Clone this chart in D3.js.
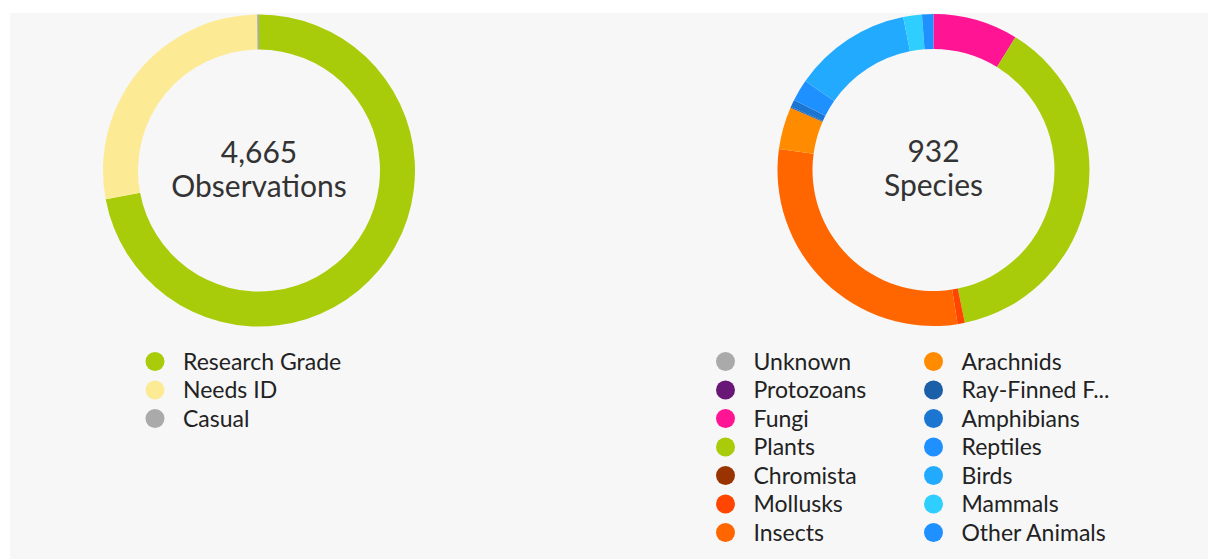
<!DOCTYPE html>
<html>
<head>
<meta charset="utf-8">
<script src="https://cdn.jsdelivr.net/npm/d3@7"></script>
<style>
  html, body { margin: 0; padding: 0; background: #ffffff; }
  svg { display: block; font-family: Lato, "Open Sans", sans-serif; }
</style>
</head>
<body>
<script>
// quality grade donut
var gradeNames = ["Research Grade", "Needs ID", "Casual"];
var gradeCounts = [3361, 1295, 9];
var gradeColors = ["#a8cc0a", "#fdea95", "#aaaaaa"];

// iconic taxa donut
var taxaNames = ["Unknown", "Protozoans", "Fungi", "Plants", "Chromista", "Mollusks", "Insects",
                 "Arachnids", "Ray-Finned F...", "Amphibians", "Reptiles", "Birds", "Mammals", "Other Animals"];
var taxaCounts = [0, 0, 82, 354, 0, 7, 276, 41, 1, 7, 21, 114, 18, 11];
var taxaColors = ["#aaaaaa", "#691776", "#ff1493", "#a8cc0a", "#993300", "#ff4500", "#ff6600",
                  "#ff8c00", "#1a5fa8", "#1c75d0", "#1e90ff", "#22aaff", "#2ecfff", "#1e90ff"];

var width = 1208, height = 559;

var svg = d3.select("body").append("svg")
    .attr("width", width)
    .attr("height", height);

// grey panel
svg.append("rect")
    .attr("x", 10).attr("y", 13)
    .attr("width", width - 10).attr("height", height - 13)
    .attr("fill", "#f7f7f7");

var pie = d3.pie().sort(null).value(function(d) { return d; });
var arc = d3.arc().innerRadius(121).outerRadius(156);

function donut(cx, cy, counts, colors, number, label) {
    var g = svg.append("g").attr("transform", "translate(" + cx + "," + cy + ")");
    g.selectAll("path").data(pie(counts)).enter().append("path")
        .attr("d", arc)
        .attr("fill", function(d, i) { return colors[i]; });
    g.append("text")
        .attr("text-anchor", "middle")
        .attr("y", -8)
        .attr("font-size", 30)
        .attr("fill", "#333")
        .text(number);
    g.append("text")
        .attr("text-anchor", "middle")
        .attr("y", 26)
        .attr("font-size", 30)
        .attr("fill", "#333")
        .text(label);
}

donut(259, 170.5, gradeCounts, gradeColors, d3.format(",")(d3.sum(gradeCounts)), "Observations");
donut(933.5, 170, taxaCounts, taxaColors, d3.sum(taxaCounts), "Species");

// legends
function legend(x0, y0, names, colors, perCol, colGap) {
    var items = svg.append("g").selectAll("g").data(names).enter().append("g")
        .attr("transform", function(d, i) {
            var col = Math.floor(i / perCol), row = i % perCol;
            return "translate(" + (x0 + col * colGap) + "," + (y0 + row * 28.5) + ")";
        });
    items.append("circle").attr("r", 9.5)
        .attr("fill", function(d, i) { return colors[i]; });
    items.append("text")
        .attr("x", 28)
        .attr("dy", "0.36em")
        .attr("font-size", 23)
        .attr("fill", "#222")
        .text(function(d) { return d; });
}

legend(155, 361.5, gradeNames, gradeColors, 3, 0);
legend(725.5, 361.5, taxaNames, taxaColors, 7, 208);
</script>
</body>
</html>
